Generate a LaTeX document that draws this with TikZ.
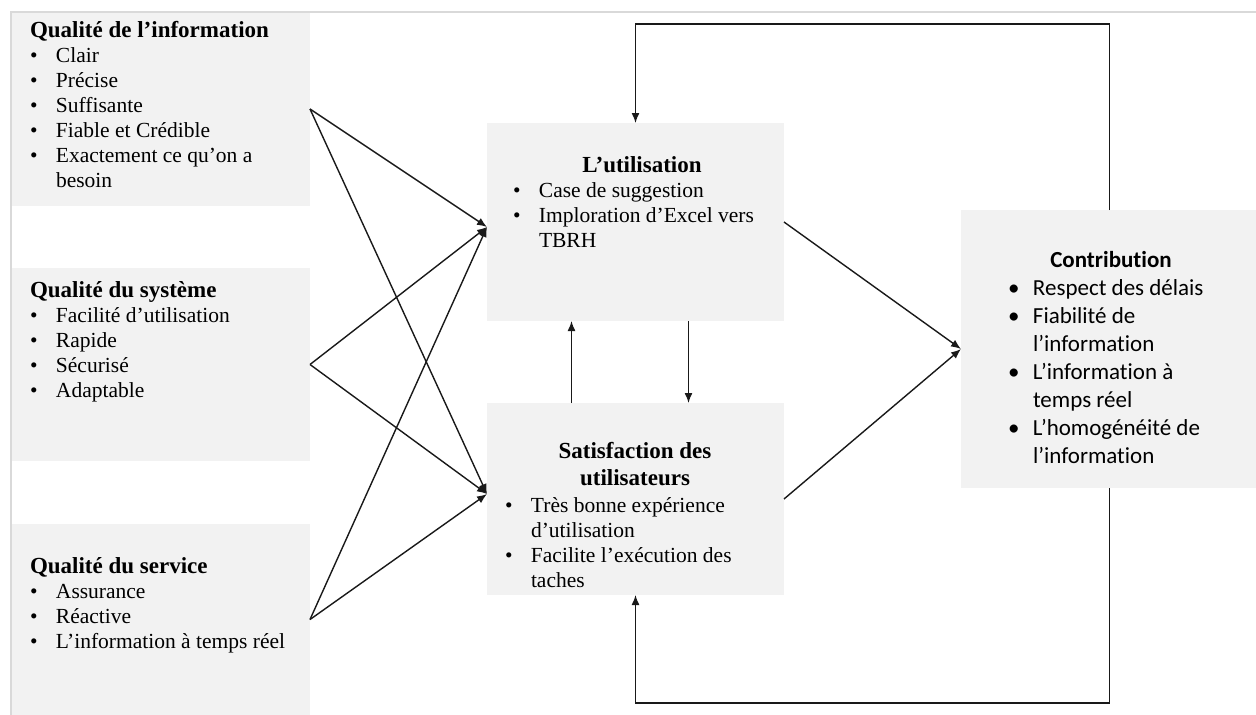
\documentclass[tikz,border=0pt]{standalone}
\usepackage{fontspec}
\setmainfont{Liberation Serif}
\newfontfamily\calibri{Carlito}[Ligatures=NoCommon]
\usetikzlibrary{arrows.meta,calc}

\definecolor{boxgrey}{HTML}{F2F2F2}
\definecolor{framegrey}{HTML}{D9D9D9}

% title line: a strut fixes the top of the text block 20pt above the baseline
\newcommand\hd[1]{\rule{0pt}{20pt}{\bfseries\fontsize{23}{25}\selectfont #1}}
\newcommand\hdc[2]{\rule{0pt}{20pt}\makebox[#1][c]{\bfseries\fontsize{23}{25}\selectfont #2}}
\newcommand\itm[1]{\makebox[26pt][l]{\textbullet}#1}
\newcommand\cnt[1]{\hspace*{26pt}#1}
\newcommand\citm[1]{\makebox[25pt][l]{\textbullet}#1}
\newcommand\ccnt[1]{\hspace*{25pt}#1}

\tikzset{
  box/.style={fill=boxgrey, inner sep=0pt, outer sep=0pt, anchor=north west},
  content/.style={inner sep=0pt, outer sep=0pt, anchor=north west, align=left,
    font=\fontsize{21.5}{25}\selectfont},
  link/.style={draw=black!90, line width=1.4pt, -{Latex[length=10pt,width=8pt]}},
}

\begin{document}
\begin{tikzpicture}[x=1pt,y=-1pt]
\useasboundingbox (0,0) rectangle (1256,715);

% boxes
\node[box, minimum width=299pt, minimum height=194pt] (info)    at (11,12)  {};
\node[box, minimum width=299pt, minimum height=193pt] (sys)     at (11,268) {};
\node[box, minimum width=299pt, minimum height=191pt] (serv)    at (11,524) {};
\node[box, minimum width=297pt, minimum height=198pt] (util)    at (487,123) {};
\node[box, minimum width=297pt, minimum height=192pt] (satis)   at (487,403) {};
\node[box, minimum width=297pt, minimum height=278pt] (contrib) at (961,210) {};

% page frame
\draw[framegrey, line width=1.4pt] (11,715) -- (11,12) -- (1256,12);

% texts
\node[content] (infoT) at (30,17) {\hd{Qualité de l’information}\\
  \itm{Clair}\\ \itm{Précise}\\ \itm{Suffisante}\\ \itm{Fiable et Crédible}\\
  \itm{Exactement ce qu’on a}\\ \cnt{besoin}};

\node[content] (sysT) at (30,277) {\hd{Qualité du système}\\
  \itm{Facilité d’utilisation}\\ \itm{Rapide}\\ \itm{Sécurisé}\\ \itm{Adaptable}};

\node[content] (servT) at (30,553) {\hd{Qualité du service}\\
  \itm{Assurance}\\ \itm{Réactive}\\ \itm{L’information à temps réel}};

\node[content] (utilT) at (513,152) {\hdc{258pt}{L’utilisation}\\
  \itm{Case de suggestion}\\ \itm{Imploration d’Excel vers}\\ \cnt{TBRH}};

\node[content] (satisT) at (505,438) {\hdc{260pt}{Satisfaction des}\\[2pt]
  \hdc{260pt}{utilisateurs}\\[2pt]
  \itm{Très bonne expérience}\\ \cnt{d’utilisation}\\
  \itm{Facilite l’exécution des}\\ \cnt{taches}};

\node[content, font=\calibri\fontsize{23}{28}\selectfont] (contribT) at (1008,247)
  {\rule{0pt}{20pt}\makebox[206pt][c]{\bfseries Contribution}\\
  \citm{Respect des délais}\\ \citm{Fiabilité de}\\ \ccnt{l’information}\\
  \citm{L’information à}\\ \ccnt{temps réel}\\
  \citm{L’homogénéité de}\\ \ccnt{l’information}};

% quality dimensions towards use and satisfaction
\foreach \src in {info,sys,serv}{
  \draw[link] (\src.east) -- ([yshift=-5pt]util.west);
  \draw[link] (\src.east) -- ([yshift=5pt]satis.west);
}

% use and satisfaction towards contribution
\draw[link] (util.east) -- (contrib.west);
\draw[link] (satis.east) -- (contrib.west);

% mutual influence of use and satisfaction
\draw[link] ([xshift=-64pt]satis.north) -- ([xshift=-64pt]util.south);
\draw[link] ([xshift=53pt]util.south) -- ([xshift=53pt]satis.north);

% feedback loops
\coordinate (topline) at (0,24);
\coordinate (botline) at (0,703);
\draw[link] (contrib.north) -- (contrib.north |- topline) -- (util.north |- topline) -- (util.north);
\draw[link] (contrib.south) -- (contrib.south |- botline) -- (satis.south |- botline) -- (satis.south);
\end{tikzpicture}
\end{document}
